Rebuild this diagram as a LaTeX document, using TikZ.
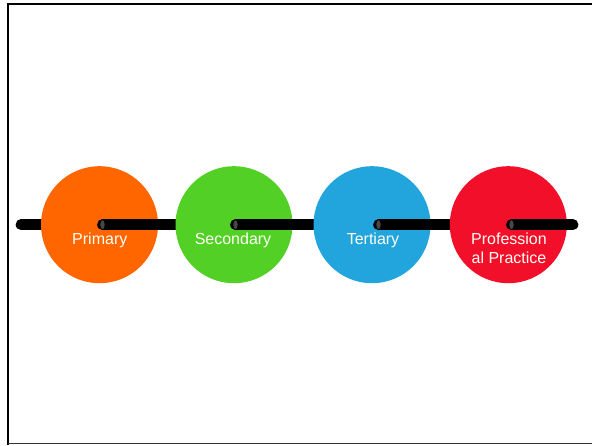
\documentclass[tikz,border=0pt]{standalone}
\usepackage{fontspec}
\setmainfont{Liberation Sans}
\begin{document}
\begin{tikzpicture}[x=1pt,y=-1pt,
  stage/.style={circle,minimum size=117pt,inner sep=0pt,draw=none},
  lbl/.style={text=white!96!yellow,font=\fontsize{16pt}{19pt}\selectfont,align=center,inner sep=0pt},
  rod/.style={line width=10.7pt,line cap=round,black},
  capend/.style={fill=black!72,draw=black,line width=0.6pt,x radius=2.6pt,y radius=5pt}]
\useasboundingbox (0,0) rectangle (592,445);
\definecolor{corange}{HTML}{FF6600}
\definecolor{cgreen}{HTML}{52D026}
\definecolor{cblue}{HTML}{22A5DC}
\definecolor{cred}{HTML}{F20F2A}
% frame
\draw[line width=2.6pt] (8,445) -- (8,4) -- (592,4);
\draw[line width=1.4pt,black!80] (8,443.6) -- (592,443.6);
% rod ends
\coordinate (s0) at (21,224.7);
\coordinate (e0) at (70,224.7);
\coordinate (r1) at (102.5,224.7);
\coordinate (r2) at (235.5,224.7);
\coordinate (r3) at (378.5,224.7);
\coordinate (r4) at (511.5,224.7);
\coordinate (e4) at (573,224.7);
% rod 0
\draw[rod] (s0) -- (e0);
\node[stage,fill=corange] (c1) at (99.5,224.7) {};
\coordinate (e1) at (200,224.7);
\draw[rod] (r1) -- (e1);
\filldraw[capend] (r1) ellipse [];
\node[stage,fill=cgreen] (c2) at (234,224.7) {};
\coordinate (e2) at (340,224.7);
\draw[rod] (r2) -- (e2);
\filldraw[capend] (r2) ellipse [];
\node[stage,fill=cblue] (c3) at (372,224.7) {};
\coordinate (e3) at (475,224.7);
\draw[rod] (r3) -- (e3);
\filldraw[capend] (r3) ellipse [];
\node[stage,fill=cred] (c4) at (508.3,224.7) {};
\draw[rod] (r4) -- (e4);
\filldraw[capend] (r4) ellipse [];
% labels
\node[lbl,anchor=base] (t1) at (99.8,244.5) {Primary};
\node[lbl,anchor=base] (t2) at (233,244.5) {Secondary};
\node[lbl,anchor=base] (t3) at (373,244.5) {Tertiary};
\node[lbl,anchor=base] (t4a) at (509,244.5) {Profession};
\node[lbl,anchor=base] (t4b) at (509,263.5) {al Practice};
\end{tikzpicture}
\end{document}
